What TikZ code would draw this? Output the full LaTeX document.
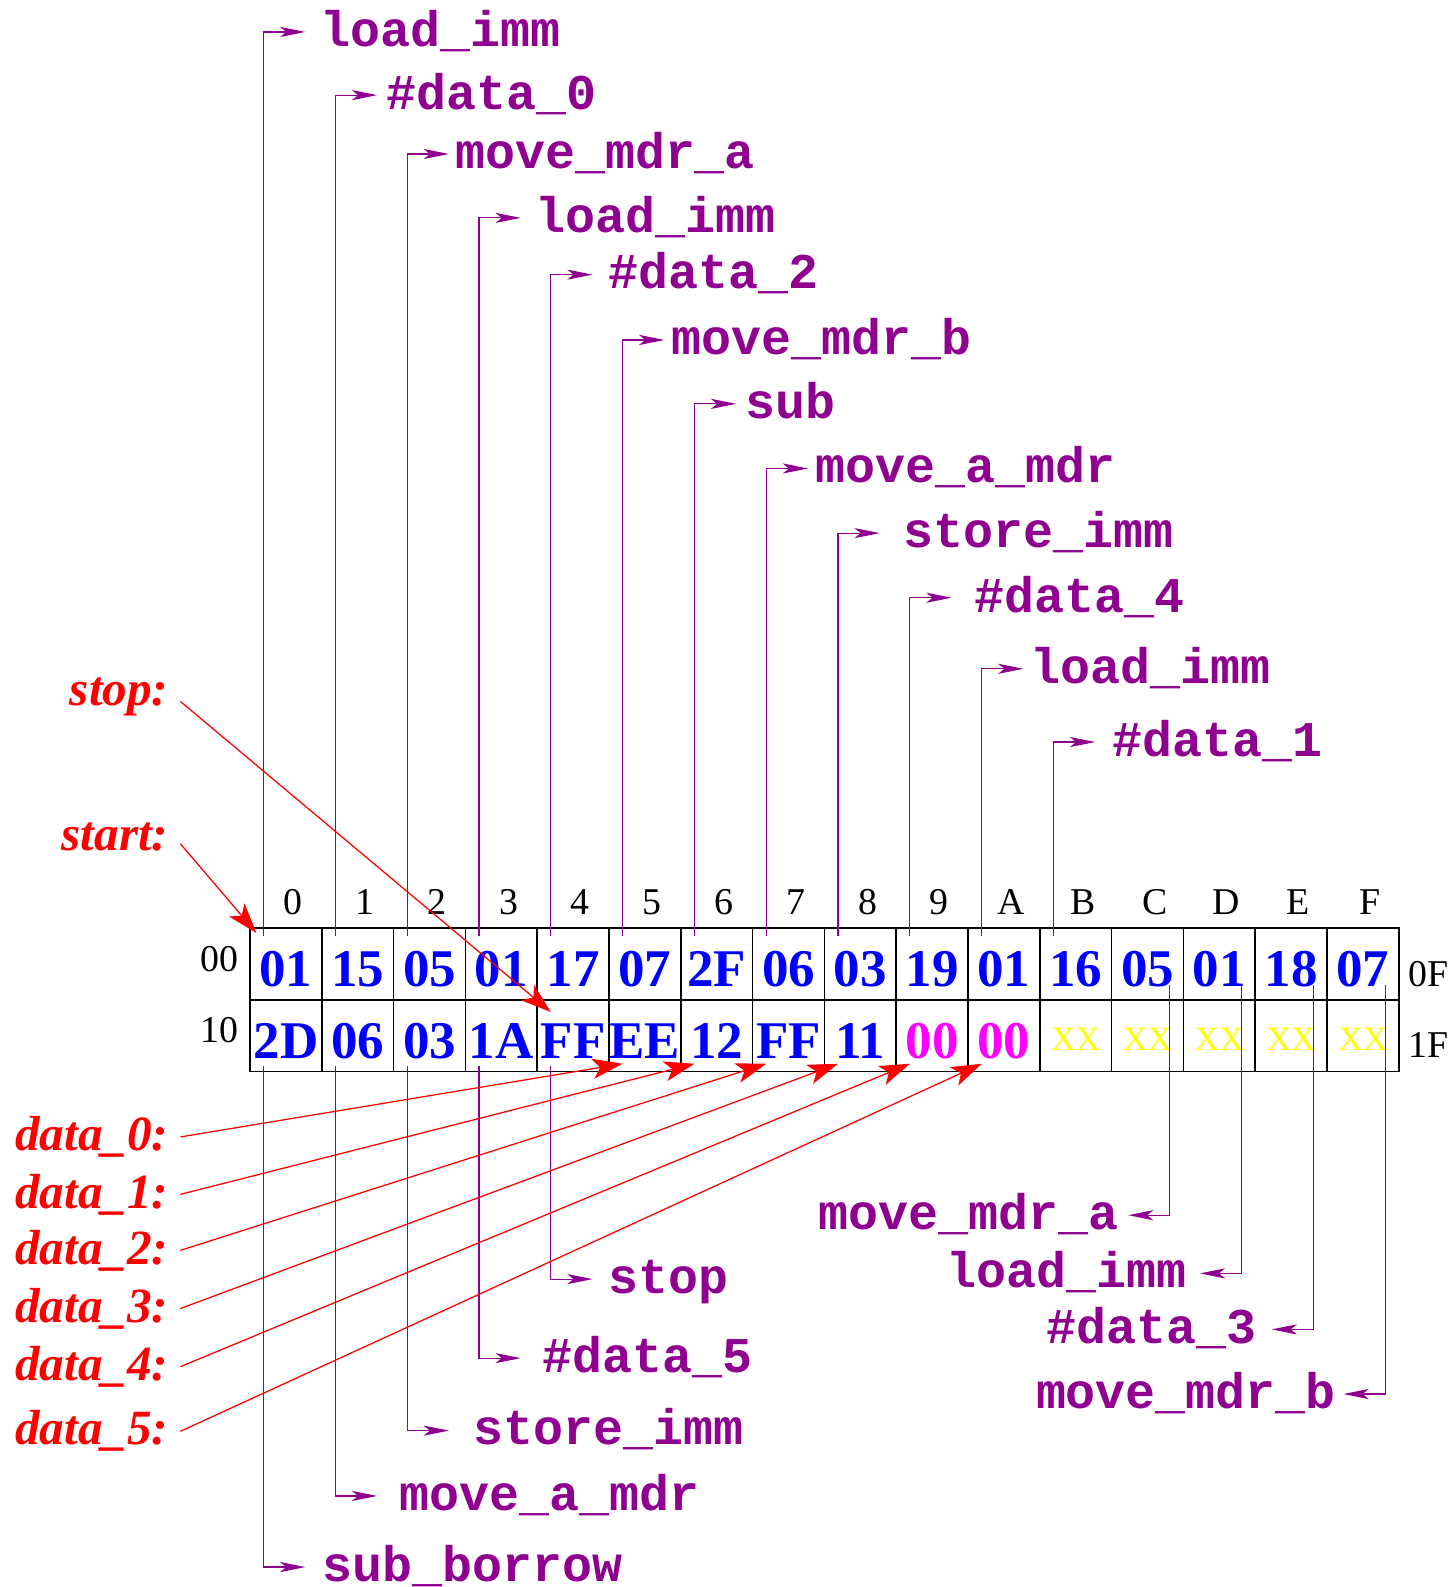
\documentclass[tikz,border=0pt]{standalone}
\usepackage{fontspec}
\setmainfont{Liberation Serif}
\setmonofont{Liberation Mono}
\usepackage{tikz}
\usetikzlibrary{arrows.meta,positioning,calc}
\definecolor{opcol}{RGB}{144,0,144}
\definecolor{nilcol}{RGB}{255,0,255}
\definecolor{freecol}{RGB}{255,255,0}
\definecolor{bytecol}{RGB}{0,0,255}
\definecolor{tagcol}{RGB}{255,0,0}

\begin{document}
\begin{tikzpicture}[
  % one box per byte of memory
  cell/.style={draw,line width=0.6pt,minimum size=1cm,inner sep=0pt,
               text height=.64cm,text depth=0pt,text=bytecol,
               font=\fontsize{21}{21}\selectfont\bfseries},
  zero/.style={cell,text=nilcol},
  free/.style={cell,text=freecol,text height=.4cm,
               font=\fontsize{13.5}{13.5}\selectfont},
  idx/.style={inner sep=0pt,font=\fontsize{15}{15}\selectfont},
  % opcode and operand names
  op/.style={inner sep=0pt,text=opcol,text height=.5cm,text depth=.1cm,
             font=\fontsize{19.8}{19.8}\selectfont\ttfamily\bfseries},
  % symbolic addresses
  tag/.style={inner xsep=.16cm,inner ysep=0pt,text=tagcol,
              font=\fontsize{19.5}{19.5}\selectfont\bfseries\itshape},
  ptr/.style={-{Stealth[length=10pt,width=4pt,inset=2.5pt]},draw=opcol,line width=0.45pt},
  link/.style={-{Stealth[length=12pt,width=8pt,inset=3pt]},draw=tagcol,line width=0.5pt}
]
  \useasboundingbox (-3.482,-9.178) rectangle (16.727,12.925);

  % ---- Memory, 00..0F and 10..1F ----
  \foreach \v [count=\i from 0] in {01,15,05,01,17,07,2F,06,03,19,01,16,05,01,18,07}
    \node[cell] (m0-\i) at (\i+0.5,-0.5) {\v};
  \foreach \v/\s [count=\i from 0] in {2D/cell,06/cell,03/cell,1A/cell,FF/cell,EE/cell,
      12/cell,FF/cell,11/cell,00/zero,00/zero,XX/free,XX/free,XX/free,XX/free,XX/free}
    \node[\s] (m1-\i) at (\i+0.5,-1.5) {\v};

  % ---- Column and row addresses ----
  \foreach \h [count=\i from 0] in {0,1,2,3,4,5,6,7,8,9,A,B,C,D,E,F}
    \node[idx,anchor=base] (col\i) at (\i+0.6,0.19) {\h};
  \node[idx,anchor=base east] (row0) at (-0.15,-0.61) {00};
  \node[idx,anchor=base east] (row1) at (-0.15,-1.60) {10};
  \node[idx,anchor=base west] (end0) at (16.13,-0.82) {0F};
  \node[idx,anchor=base west] (end1) at (16.13,-1.81) {1F};

  % ---- Decoded bytes, first row (upwards) ----
  \foreach \c/\y/\g/\t in {0/12.48/.21/load\_imm, 1/11.60/.13/\#data\_0,
      2/10.78/.08/move\_mdr\_a, 3/9.89/.20/load\_imm, 4/9.10/.22/\#data\_2,
      5/8.19/.10/move\_mdr\_b, 6/7.30/.13/sub, 7/6.40/.10/move\_a\_mdr,
      8/5.50/.32/store\_imm, 9/4.60/.32/\#data\_4, 10/3.61/.10/load\_imm,
      11/2.59/.23/\#data\_1}
  {
    \node[op,anchor=west] (up\c) at (\c+0.77+\g,\y) {\t};
    \draw[ptr,shorten >=\g cm] ([shift={(0.2,-0.12)}]m0-\c.north west) |- (up\c.west);
  }

  % ---- Decoded bytes, second row (downwards) ----
  \foreach \c/\y/\g/\t in {4/-4.89/.21/stop, 3/-5.99/.30/\#data\_5,
      2/-7.00/.34/store\_imm, 1/-7.91/.31/move\_a\_mdr, 0/-8.90/.23/sub\_borrow}
  {
    \node[op,anchor=west] (dn\c) at (\c+0.77+\g,\y) {\t};
    \draw[ptr,shorten >=\g cm] ([shift={(0.2,0.09)}]m1-\c.south west) |- (dn\c.west);
  }

  % ---- Last four bytes of the first row (down and left) ----
  \foreach \c/\y/\g/\t in {12/-4.00/.13/move\_mdr\_a, 13/-4.81/.18/load\_imm,
      14/-5.59/.21/\#data\_3, 15/-6.49/.10/move\_mdr\_b}
  {
    \node[op,anchor=east] (rt\c) at (\c+0.23-\g,\y) {\t};
    \draw[ptr,shorten >=\g cm] ([shift={(-0.2,-0.81)}]m0-\c.north east) |- (rt\c.east);
  }

  % ---- Labels ----
  \node[tag,anchor=base east] (stop)  at (-0.97,3.106) {stop:};
  \node[tag,anchor=base east] (start) at (-0.97,1.086) {start:};
  \draw[link] ([yshift=-.07cm]stop.east)  -- ([shift={(0.2,-0.18)}]m1-4.north west);
  \draw[link] ([yshift=-.1cm]start.east) -- ([shift={(0.1,-0.08)}]m0-0.north west);

  \foreach \k/\y in {0/-3.10,1/-3.90,2/-4.68,3/-5.49,4/-6.30,5/-7.20}
  {
    \node[tag,anchor=base east] (data\k) at (-0.97,\y) {data\_\k:};
    \pgfmathtruncatemacro\j{\k+5}
    \draw[link] (data\k.east) -- ([shift={(0.2,0.12)}]m1-\j.south west);
  }
\end{tikzpicture}
\end{document}
